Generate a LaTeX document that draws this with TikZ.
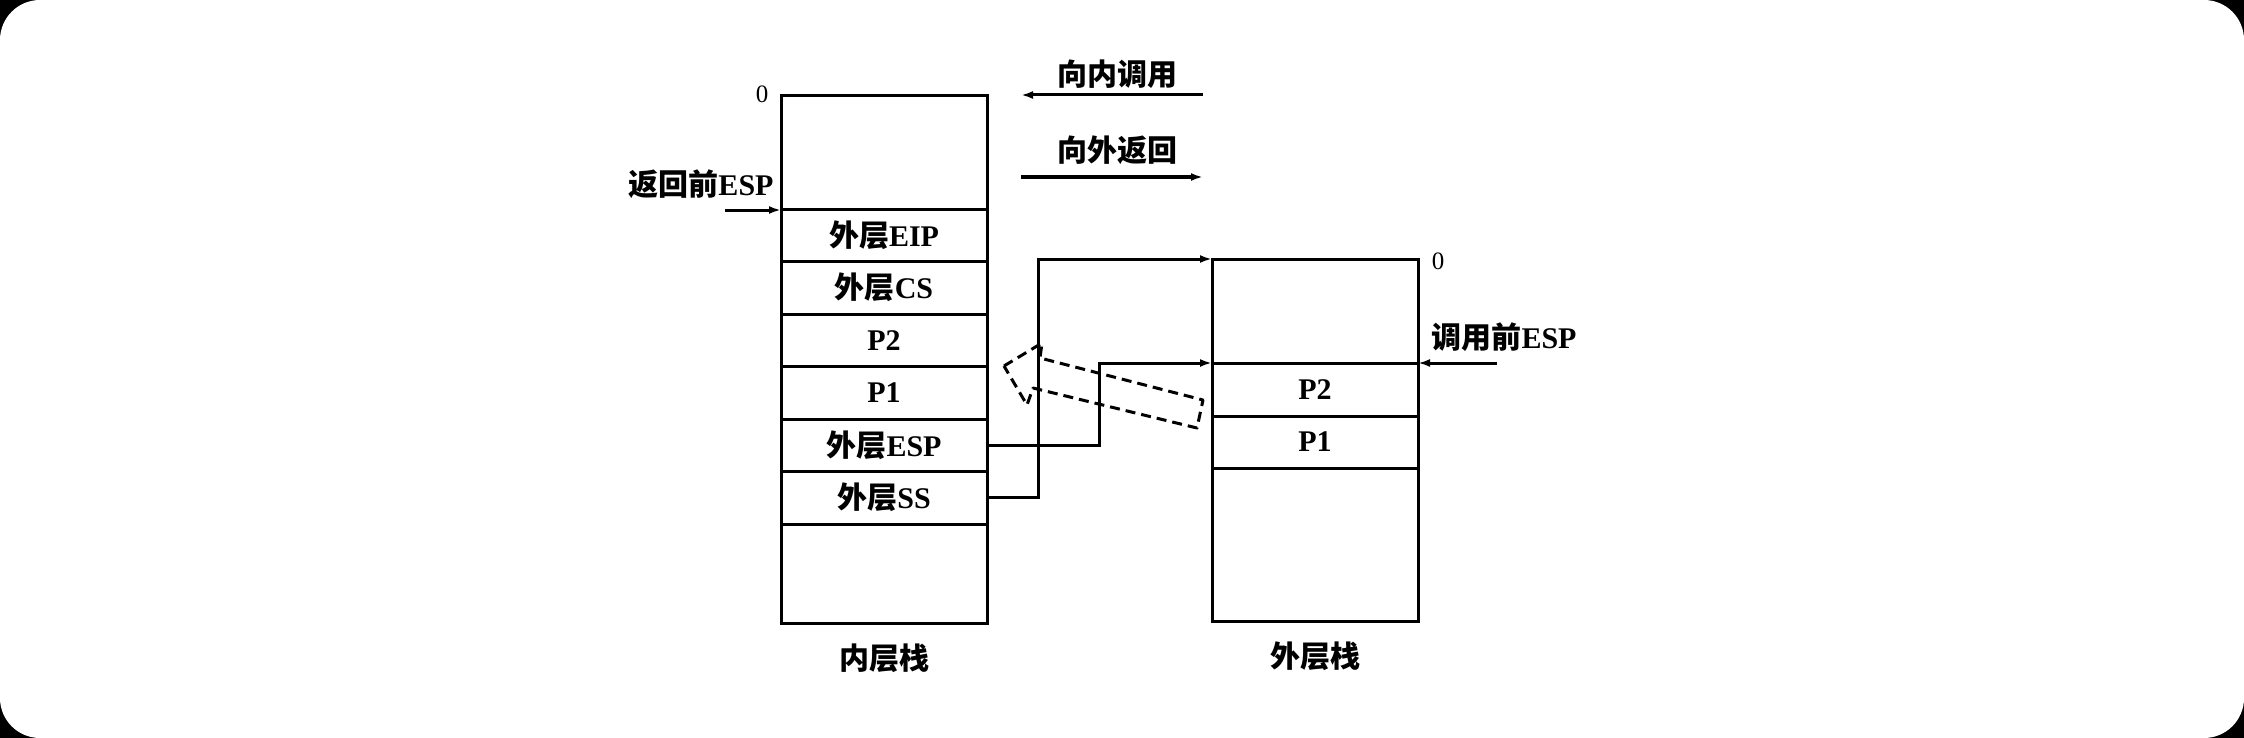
\documentclass[tikz,border=0pt]{standalone}
\usepackage{fontspec}
\setmainfont{Liberation Serif}
\newfontfamily\cjk{Noto Sans CJK SC}
\newcommand\zh[1]{{\cjk #1}}
\usetikzlibrary{positioning,arrows.meta}

\begin{document}
\begin{tikzpicture}[x=0.5pt,y=-0.5pt,
    cell/.style={draw,line width=1.5pt,minimum width=103pt,outer sep=0pt,inner sep=0pt,font=\fontsize{15}{17}\selectfont\bfseries},
    slot/.style={cell,minimum height=26.25pt},
    lbl/.style={font=\fontsize{15}{17}\selectfont\bfseries,inner sep=0pt},
    zero/.style={font=\fontsize{12.5}{14}\selectfont,inner sep=0pt},
    link/.style={line width=1.5pt,-{Latex[length=6pt,width=4pt]}},
    hollow/.style={line width=1.5pt,dash pattern=on 5pt off 3pt,line join=round}]
   	 % background
   	 \fill[black] (0,0) rectangle (2244,738);
   	 \fill[white,rounded corners=20pt] (0,0) rectangle (2244,738);
   	 % inner stack
   	 \node[cell,minimum height=56.5pt,anchor=north west] (in0) at (781,96) {};
   	 \node[slot,below=0pt of in0] (ineip) {\zh{外层}EIP};
   	 \node[slot,below=0pt of ineip] (incs) {\zh{外层}CS};
   	 \node[slot,below=0pt of incs] (inp2) {P2};
   	 \node[slot,below=0pt of inp2] (inp1) {P1};
   	 \node[slot,below=0pt of inp1] (inesp) {\zh{外层}ESP};
   	 \node[slot,below=0pt of inesp] (inss) {\zh{外层}SS};
   	 \node[cell,minimum height=49.5pt,below=0pt of inss] (inend) {};
   	 % outer stack
   	 \node[cell,minimum height=52pt,anchor=north west] (out0) at (1212,259) {};
   	 \node[cell,minimum height=26.5pt,below=0pt of out0] (outp2) {P2};
   	 \node[cell,minimum height=26pt,below=0pt of outp2] (outp1) {P1};
   	 \node[cell,minimum height=76.5pt,below=0pt of outp1] (outend) {};
   	 % labels
   	 \node[zero] (inzero) at (762,94) {0};
   	 \node[zero] (outzero) at (1438,261) {0};
   	 \node[lbl] (inname) at (884,658) {\zh{内层栈}};
   	 \node[lbl] (outname) at (1315,656) {\zh{外层栈}};
   	 \node[lbl] (retesp) at (701,184) {\zh{返回前}ESP};
   	 \node[lbl] (callesp) at (1504,337) {\zh{调用前}ESP};
   	 \node[lbl] (callin) at (1117,74) {\zh{向内调用}};
   	 \node[lbl] (retout) at (1117,150) {\zh{向外返回}};
   	 % ESP pointers
   	 \coordinate (retstart) at (725,210);
   	 \coordinate (callstart) at (1497,363);
   	 \draw[link] (retstart) -- (retstart -| in0.west);
   	 \draw[link] (callstart) -- (callstart -| outp2.east);
   	 % legend
   	 \coordinate (inA) at (1203,95);
   	 \coordinate (inB) at (1021,95);
   	 \coordinate (outA) at (1021,177);
   	 \coordinate (outB) at (1203,177);
   	 \draw[link] (inA) -- (inB);
   	 \draw[link] (outA) -- (outB);
   	 % saved SS:ESP point to outer stack
   	 \draw[link] (inss.east) -- ++(51,0) |- (out0.north west);
   	 \draw[link] (inesp.east) -- ++(112,0) |- (outp2.north west);
   	 % return arrow
   	 \draw[hollow] (1004,366) -- (1042,343) -- (1040,358) -- (1203,400) -- (1197,428) -- (1033,388) -- (1027,405) -- cycle;
    \end{tikzpicture}
\end{document}
